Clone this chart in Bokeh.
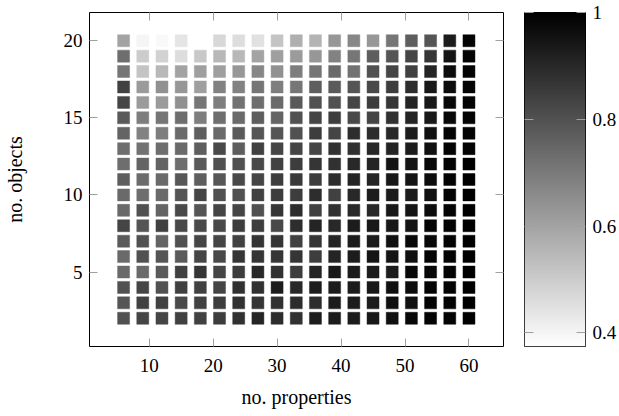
from bokeh.plotting import figure
from bokeh.models import (ColumnDataSource, LinearColorMapper, LinearAxis,
                          FixedTicker, CustomJSTickFormatter, Range1d)
from bokeh.transform import transform
from bokeh.layouts import row
from bokeh.embed import file_html
from bokeh.resources import INLINE
import numpy as np

# x: number of properties, y: number of objects
properties = [6, 9, 12, 15, 18, 21, 24, 27, 30, 33, 36, 39, 42, 45, 48, 51, 54, 57, 60]

# one list per row (value for each number of properties)
obj_20 = [0.60, 0.40, 0.39, 0.44, 0.375, 0.47, 0.46, 0.45, 0.52, 0.57, 0.56, 0.63, 0.67, 0.63, 0.71, 0.77, 0.79, 0.93, 0.99]
obj_19 = [0.73, 0.50, 0.485, 0.46, 0.51, 0.55, 0.55, 0.60, 0.61, 0.62, 0.63, 0.68, 0.71, 0.77, 0.79, 0.83, 0.87, 0.95, 0.99]
obj_18 = [0.71, 0.52, 0.55, 0.60, 0.61, 0.61, 0.63, 0.67, 0.645, 0.69, 0.71, 0.74, 0.72, 0.80, 0.83, 0.84, 0.91, 0.97, 0.99]
obj_17 = [0.84, 0.62, 0.645, 0.63, 0.61, 0.68, 0.68, 0.71, 0.69, 0.71, 0.77, 0.78, 0.79, 0.82, 0.85, 0.89, 0.94, 0.97, 0.99]
obj_16 = [0.83, 0.62, 0.62, 0.645, 0.71, 0.69, 0.72, 0.73, 0.74, 0.78, 0.80, 0.80, 0.83, 0.85, 0.87, 0.91, 0.94, 0.98, 0.99]
obj_15 = [0.78, 0.69, 0.71, 0.73, 0.69, 0.73, 0.74, 0.77, 0.755, 0.80, 0.83, 0.85, 0.82, 0.83, 0.88, 0.91, 0.94, 0.98, 0.99]
obj_14 = [0.755, 0.68, 0.69, 0.74, 0.77, 0.74, 0.78, 0.79, 0.79, 0.80, 0.85, 0.83, 0.89, 0.89, 0.90, 0.93, 0.96, 0.99, 0.99]
obj_13 = [0.73, 0.72, 0.73, 0.74, 0.77, 0.82, 0.77, 0.84, 0.83, 0.83, 0.83, 0.88, 0.88, 0.90, 0.91, 0.93, 0.96, 0.99, 0.99]
obj_12 = [0.73, 0.755, 0.755, 0.73, 0.78, 0.80, 0.80, 0.82, 0.84, 0.85, 0.87, 0.88, 0.90, 0.91, 0.95, 0.95, 0.98, 0.99, 1.00]
obj_11 = [0.77, 0.735, 0.74, 0.785, 0.77, 0.785, 0.82, 0.83, 0.85, 0.86, 0.85, 0.89, 0.91, 0.91, 0.94, 0.95, 0.97, 0.99, 1.00]
obj_10 = [0.74, 0.73, 0.74, 0.79, 0.83, 0.80, 0.80, 0.84, 0.85, 0.85, 0.89, 0.84, 0.90, 0.93, 0.93, 0.93, 0.96, 0.99, 1.00]
obj_9 = [0.74, 0.80, 0.755, 0.82, 0.79, 0.83, 0.83, 0.80, 0.87, 0.89, 0.84, 0.88, 0.90, 0.90, 0.94, 0.95, 0.97, 0.99, 1.00]
obj_8 = [0.83, 0.79, 0.84, 0.82, 0.82, 0.82, 0.85, 0.85, 0.82, 0.89, 0.91, 0.90, 0.93, 0.94, 0.94, 0.95, 0.99, 0.99, 1.00]
obj_7 = [0.78, 0.80, 0.755, 0.80, 0.83, 0.83, 0.84, 0.87, 0.87, 0.84, 0.87, 0.91, 0.93, 0.93, 0.96, 0.98, 0.98, 0.99, 1.00]
obj_6 = [0.74, 0.80, 0.79, 0.78, 0.83, 0.82, 0.87, 0.87, 0.87, 0.87, 0.85, 0.91, 0.93, 0.95, 0.95, 0.96, 0.99, 0.99, 1.00]
obj_5 = [0.74, 0.74, 0.78, 0.84, 0.87, 0.83, 0.85, 0.90, 0.88, 0.85, 0.91, 0.94, 0.93, 0.93, 0.93, 0.98, 0.98, 0.99, 1.00]
obj_4 = [0.80, 0.83, 0.80, 0.84, 0.84, 0.83, 0.88, 0.88, 0.93, 0.90, 0.93, 0.93, 0.93, 0.94, 0.96, 0.97, 0.99, 0.99, 1.00]
obj_3 = [0.79, 0.84, 0.84, 0.82, 0.84, 0.85, 0.88, 0.87, 0.88, 0.89, 0.89, 0.93, 0.93, 0.93, 0.96, 0.96, 0.99, 0.99, 1.00]
obj_2 = [0.80, 0.83, 0.83, 0.84, 0.84, 0.85, 0.88, 0.91, 0.89, 0.88, 0.93, 0.93, 0.93, 0.94, 0.96, 0.98, 0.99, 0.99, 1.00]

objects = [20, 19, 18, 17, 16, 15, 14, 13, 12, 11, 10, 9, 8, 7, 6, 5, 4, 3, 2]
rows = [obj_20, obj_19, obj_18, obj_17, obj_16, obj_15, obj_14, obj_13, obj_12,
        obj_11, obj_10, obj_9, obj_8, obj_7, obj_6, obj_5, obj_4, obj_3, obj_2]

x_ticks = [10, 20, 30, 40, 50, 60]
y_ticks = [5, 10, 15, 20]
cb_ticks = [0.4, 0.6, 0.8, 1.0]

xs, ys, vs = [], [], []
for yv, vals in zip(objects, rows):
    for xv, v in zip(properties, vals):
        xs.append(xv); ys.append(yv); vs.append(v)
src = ColumnDataSource(dict(x=xs, y=ys, v=vs))

LOW, HIGH = 0.3745, 1.0
palette = ["#%02x%02x%02x" % (g, g, g) for g in range(255, -1, -1)]
mapper = LinearColorMapper(palette=palette, low=LOW, high=HIGH)

FONT = "Liberation Serif"
TICK_COLOR = "#a0a0a0"
TOP = 12
FH = 334
BOTTOM = 60

p = figure(frame_width=414, frame_height=FH,
           x_range=Range1d(0.67, 65.4), y_range=Range1d(0.17, 21.83),
           output_backend="svg", toolbar_location=None,
           x_axis_location=None, y_axis_location=None,
           min_border_left=84, min_border_right=10, min_border_top=TOP,
           min_border_bottom=BOTTOM)
p.grid.visible = False
p.outline_line_color = "black"
p.outline_line_width = 1
p.outline_line_alpha = 1

p.scatter("x", "y", source=src, marker="square", size=12,
          fill_color=transform("v", mapper), line_color=transform("v", mapper),
          line_alpha=0.45, line_width=1)

blank = CustomJSTickFormatter(code="return '';")
bottom_ax = LinearAxis(ticker=FixedTicker(ticks=x_ticks), axis_label="no. properties")
left_ax = LinearAxis(ticker=FixedTicker(ticks=y_ticks), axis_label="no. objects")
top_ax = LinearAxis(ticker=FixedTicker(ticks=x_ticks), formatter=blank)
right_ax = LinearAxis(ticker=FixedTicker(ticks=y_ticks), formatter=blank)
p.add_layout(bottom_ax, "below")
p.add_layout(left_ax, "left")
p.add_layout(top_ax, "above")
p.add_layout(right_ax, "right")

for ax in [bottom_ax, left_ax, top_ax, right_ax]:
    ax.axis_line_color = None
    ax.major_tick_in = 8
    ax.major_tick_out = 0
    ax.minor_tick_line_color = None
    ax.major_tick_line_color = TICK_COLOR
    ax.major_tick_line_width = 1
    ax.major_label_text_font = FONT
    ax.major_label_text_font_size = "19px"
    ax.major_label_text_color = "black"
    ax.axis_label_text_font = FONT
    ax.axis_label_text_font_size = "20px"
    ax.axis_label_text_font_style = "normal"
    ax.axis_label_text_color = "black"
for ax in [top_ax, right_ax]:
    ax.major_label_standoff = 0
bottom_ax.major_label_standoff = 12
bottom_ax.axis_label_standoff = 11
left_ax.major_label_standoff = 7
left_ax.axis_label_standoff = 35

# colorbar as its own small figure
cb = figure(frame_width=61, frame_height=FH,
            x_range=Range1d(0, 1), y_range=Range1d(LOW, HIGH),
            output_backend="svg", toolbar_location=None,
            min_border_left=11, min_border_right=30, min_border_top=TOP,
            min_border_bottom=BOTTOM,
            x_axis_location=None, y_axis_location=None)
cb.grid.visible = False
cb.outline_line_color = "black"
cb.outline_line_width = 1
grad = np.linspace(LOW, HIGH, 256).reshape(256, 1)
cb.image(image=[grad], x=0, y=LOW, dw=1, dh=HIGH - LOW, color_mapper=mapper)

cb_right = LinearAxis(ticker=FixedTicker(ticks=cb_ticks),
                      formatter=CustomJSTickFormatter(code="return tick >= 0.999 ? '1' : tick.toFixed(1);"))
cb_left = LinearAxis(ticker=FixedTicker(ticks=cb_ticks), formatter=blank)
cb.add_layout(cb_right, "right")
cb.add_layout(cb_left, "left")
for ax in [cb_right, cb_left]:
    ax.axis_line_color = None
    ax.major_tick_in = 9
    ax.major_tick_out = 0
    ax.minor_tick_line_color = None
    ax.major_tick_line_color = TICK_COLOR
    ax.major_label_text_font = FONT
    ax.major_label_text_font_size = "19px"
    ax.major_label_text_color = "black"
cb_left.major_label_standoff = 0
cb_right.major_label_standoff = 7

layout = row(p, cb)
open("out.html", "w").write(file_html(layout, INLINE))
